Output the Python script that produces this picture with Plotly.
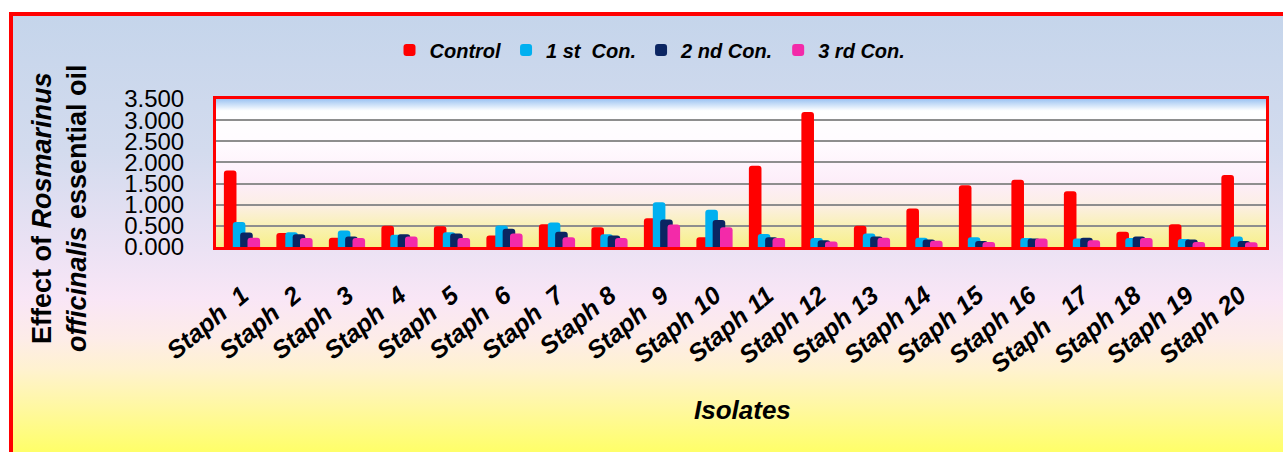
import base64
import plotly.graph_objects as go

# ---- data -------------------------------------------------------------
NB = "\u00a0"
isolates = [
    "Staph" + NB * 2 + "1", "Staph" + NB * 2 + "2", "Staph" + NB * 2 + "3",
    "Staph" + NB * 2 + "4", "Staph" + NB * 2 + "5", "Staph" + NB * 2 + "6",
    "Staph" + NB * 2 + "7", "Staph" + NB + "8", "Staph" + NB * 2 + "9",
    "Staph" + NB + "10", "Staph" + NB + "11", "Staph" + NB + "12",
    "Staph" + NB + "13", "Staph" + NB + "14", "Staph" + NB + "15",
    "Staph" + NB + "16", "Staph" + NB * 3 + "17", "Staph" + NB + "18",
    "Staph" + NB + "19", "Staph" + NB + "20",
]
control = [1.81, 0.33, 0.22, 0.50, 0.49, 0.27, 0.54, 0.47, 0.68, 0.23,
           1.92, 3.19, 0.50, 0.91, 1.46, 1.59, 1.32, 0.36, 0.54, 1.70]
con1 = [0.59, 0.35, 0.39, 0.29, 0.35, 0.51, 0.58, 0.30, 1.06, 0.88,
        0.31, 0.21, 0.32, 0.22, 0.23, 0.21, 0.20, 0.21, 0.19, 0.25]
con2 = [0.34, 0.30, 0.25, 0.30, 0.32, 0.43, 0.36, 0.27, 0.65, 0.64,
        0.23, 0.16, 0.25, 0.18, 0.14, 0.20, 0.22, 0.25, 0.18, 0.14]
con3 = [0.22, 0.21, 0.21, 0.25, 0.21, 0.32, 0.23, 0.21, 0.53, 0.47,
        0.21, 0.13, 0.22, 0.15, 0.12, 0.20, 0.16, 0.21, 0.12, 0.11]

series_names = ["Control", "1 st" + NB * 2 + "Con.", "2 nd Con.", "3 rd Con."]
series_values = [control, con1, con2, con3]
series_colors = ["#ff0000", "#00b0f0", "#0b2562", "#f32aa9"]
bar_offsets = [-0.35, -0.18, -0.04, 0.10]
BAR_W = 0.24

# ---- geometry (pixels) -------------------------------------------------
W, H = 1283, 452
L, R, T, B = 216, 17, 99, 205
PW, PH = W - L - R, H - T - B


def px_x(p):
    return (p - L) / PW


def px_y(p):
    return (H - B - p) / PH


def gradient_svg(stops):
    s = "".join(f"<stop offset='{o}' stop-color='{c}'/>" for o, c in stops)
    svg = ("<svg xmlns='http://www.w3.org/2000/svg' width='100' height='100' "
           "viewBox='0 0 100 100' preserveAspectRatio='none'><defs>"
           "<linearGradient id='g' x1='0' y1='0' x2='0' y2='1'>" + s +
           "</linearGradient></defs><rect width='100' height='100' fill='url(#g)'/></svg>")
    return "data:image/svg+xml;base64," + base64.b64encode(svg.encode()).decode()


outer_bg = gradient_svg([
    (0, "#c5d5eb"), (0.31, "#d3dbee"), (0.54, "#ece2f4"), (0.65, "#f9e6f6"),
    (0.74, "#fdece8"), (0.81, "#fff2d0"), (0.90, "#fff8a0"), (1, "#ffff68"),
])
plot_bg = gradient_svg([
    (0, "#9cc3f2"), (0.08, "#ffffff"), (0.3, "#fffbff"), (0.57, "#fdedf9"),
    (0.72, "#fcefe4"), (0.86, "#f9f1b5"), (1, "#f8f08a"),
])

FONT = "Liberation Sans, Arial, sans-serif"

fig = go.Figure()
for name, vals, col, off in zip(series_names, series_values, series_colors, bar_offsets):
    fig.add_trace(go.Bar(
        x=isolates, y=vals, name=name, width=BAR_W, offset=off,
        marker=dict(color=col, line=dict(width=0), cornerradius=3),
    ))

fig.update_layout(
    width=W, height=H, autosize=False,
    margin=dict(l=L, r=R, t=T, b=B, pad=0),
    paper_bgcolor="white", plot_bgcolor="rgba(0,0,0,0)",
    barmode="overlay",
    font=dict(family=FONT, color="black"),
    legend=dict(
        orientation="h", x=px_x(650), xanchor="center", y=px_y(50), yanchor="middle",
        font=dict(family=FONT, size=20, weight="bold", style="italic", color="black"),
        bgcolor="rgba(0,0,0,0)", itemwidth=30, traceorder="normal",
    ),
    xaxis=dict(
        type="category", showgrid=False, showline=True, linecolor="#ff0000",
        linewidth=3, mirror=True, ticks="", tickangle=-40,
        tickfont=dict(family=FONT, size=25, weight="bold", style="italic", color="black"),
        ticklabelstandoff=21,
    ),
    yaxis=dict(
        range=[0, 3.5], dtick=0.5, tickformat=".3f", showgrid=True,
        gridcolor="#8e8e8e", gridwidth=2, zeroline=False, showline=True,
        linecolor="#ff0000", linewidth=3, mirror=True, ticks="",
        tickfont=dict(family=FONT, size=24, color="black"), ticklabelstandoff=24,
    ),
    images=[
        dict(source=outer_bg, xref="paper", yref="paper", x=px_x(13), y=px_y(16),
             sizex=(W - 13) / PW, sizey=(H - 16) / PH, xanchor="left", yanchor="top",
             sizing="stretch", layer="below"),
        dict(source=plot_bg, xref="paper", yref="paper", x=0, y=1, sizex=1, sizey=1,
             xanchor="left", yanchor="top", sizing="stretch", layer="below"),
    ],
    shapes=[
        dict(type="line", xref="paper", yref="paper", x0=px_x(9), x1=px_x(W + 5),
             y0=px_y(14), y1=px_y(14), line=dict(color="#ff0000", width=4)),
        dict(type="line", xref="paper", yref="paper", x0=px_x(11), x1=px_x(11),
             y0=px_y(12), y1=px_y(H + 5), line=dict(color="#ff0000", width=4)),
    ],
    annotations=[
        dict(text="Effect of <i>Rosmarinus</i><br><i>officinalis</i> essential oil",
             xref="paper", yref="paper", x=px_x(59), y=px_y(208), textangle=-90,
             showarrow=False, xanchor="center", yanchor="middle",
             font=dict(family=FONT, size=27, weight="bold", color="black")),
        dict(text="Isolates", xref="paper", yref="paper", x=px_x(742), y=px_y(410),
             showarrow=False, xanchor="center", yanchor="middle",
             font=dict(family=FONT, size=26, weight="bold", style="italic", color="black")),
    ],
)

fig.write_html("out.html")
